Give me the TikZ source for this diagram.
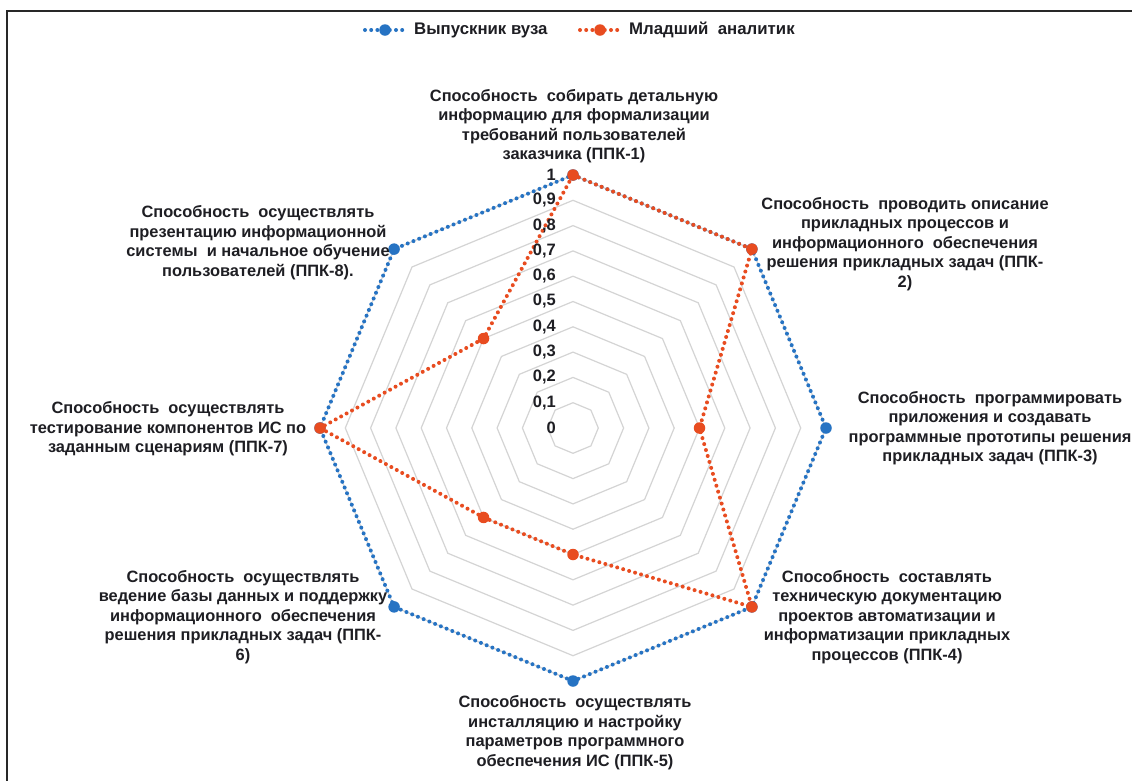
\documentclass[tikz,border=0pt]{standalone}
\usepackage{fontspec}
\setmainfont{Liberation Sans}
\definecolor{serA}{RGB}{38,115,195}
\definecolor{serB}{RGB}{232,76,32}
\definecolor{gridc}{RGB}{212,212,212}
\definecolor{txtc}{RGB}{30,30,35}
\definecolor{framec}{RGB}{40,40,40}
\tikzset{
  dotline/.style={line width=4pt, dash pattern=on 0pt off 6.2pt, line cap=round},
  mk/.style={circle, inner sep=0pt, minimum size=11.5pt, fill=#1, draw=none},
  lbl/.style={align=center, inner sep=0pt, text=txtc, font=\bfseries\fontsize{16.4}{19.5}\selectfont},
  val/.style={anchor=east, inner sep=0pt, text=txtc, font=\bfseries\fontsize{16.5}{18}\selectfont},
  leg/.style={anchor=west, inner sep=0pt, text=txtc, font=\bfseries\fontsize{16.8}{18}\selectfont},
  gridline/.style={draw=gridc, line width=1.2pt}
}
\begin{document}
\begin{tikzpicture}[x=1pt,y=-1pt]
\useasboundingbox (0,0) rectangle (1132,780);
\fill[white] (0,0) rectangle (1132,780);
\coordinate (fbl) at (7,790);
\coordinate (ftl) at (7,11);
\coordinate (ftr) at (1140,11);
\draw[framec, line width=2pt] (fbl) -- (ftl) -- (ftr);

\begin{scope}[shift={(573,428)}, yscale=-1]
  \foreach \k in {1,...,10}{
    \draw[gridline] (90:{25.3*\k}) -- (45:{25.3*\k}) -- (0:{25.3*\k}) -- (-45:{25.3*\k})
      -- (-90:{25.3*\k}) -- (-135:{25.3*\k}) -- (180:{25.3*\k}) -- (135:{25.3*\k}) -- cycle;
  }
  % series A (all 1)
  \coordinate (a1) at (90:253);
  \coordinate (a2) at (45:253);
  \coordinate (a3) at (0:253);
  \coordinate (a4) at (-45:253);
  \coordinate (a5) at (-90:253);
  \coordinate (a6) at (-135:253);
  \coordinate (a7) at (180:253);
  \coordinate (a8) at (135:253);
  % series B
  \coordinate (b1) at (90:253);
  \coordinate (b2) at (45:253);
  \coordinate (b3) at (0:126.5);
  \coordinate (b4) at (-45:253);
  \coordinate (b5) at (-90:126.5);
  \coordinate (b6) at (-135:126.5);
  \coordinate (b7) at (180:253);
  \coordinate (b8) at (135:126.5);
\end{scope}

\draw[serA, dotline] (a1) -- (a2) -- (a3) -- (a4) -- (a5) -- (a6) -- (a7) -- (a8) -- cycle;
\foreach \i in {1,...,8}{ \node[mk=serA] (ma\i) at (a\i) {}; }
\draw[serB, dotline] (b1) -- (b2) -- (b3) -- (b4) -- (b5) -- (b6) -- (b7) -- (b8) -- cycle;
\foreach \i in {1,...,8}{ \node[mk=serB] (mb\i) at (b\i) {}; }

% value labels
\node[val] (v0) at (556,428) {0};
\node[val] (v1) at (556,402.7) {0,1};
\node[val] (v2) at (556,377.4) {0,2};
\node[val] (v3) at (556,352.1) {0,3};
\node[val] (v4) at (556,326.8) {0,4};
\node[val] (v5) at (556,301.5) {0,5};
\node[val] (v6) at (556,276.2) {0,6};
\node[val] (v7) at (556,250.9) {0,7};
\node[val] (v8) at (556,225.6) {0,8};
\node[val] (v9) at (556,200.3) {0,9};
\node[val] (v10) at (556,175) {1};

% axis labels
\node[lbl] (p1) at (574,126) {Способность\ \ собирать детальную\\информацию для формализации\\требований пользователей\\заказчика (ППК-1)};
\node[lbl] (p2) at (905,244) {Способность\ \ проводить описание\\прикладных процессов и\\информационного\ \ обеспечения\\решения прикладных задач (ППК-\\2)};
\node[lbl] (p3) at (990,428) {Способность\ \ программировать\\приложения и создавать\\программные прототипы решения\\прикладных задач (ППК-3)};
\node[lbl] (p4) at (887,617) {Способность\ \ составлять\\техническую документацию\\проектов автоматизации и\\информатизации прикладных\\процессов (ППК-4)};
\node[lbl] (p5) at (575,732.5) {Способность\ \ осуществлять\\инсталляцию и настройку\\параметров программного\\обеспечения ИС (ППК-5)};
\node[lbl] (p6) at (243,617) {Способность\ \ осуществлять\\ведение базы данных и поддержку\\информационного\ \ обеспечения\\решения прикладных задач (ППК-\\6)};
\node[lbl] (p7) at (168,429) {Способность\ \ осуществлять\\тестирование компонентов ИС по\\заданным сценариям (ППК-7)};
\node[lbl] (p8) at (258,242.5) {Способность\ \ осуществлять\\презентацию информационной\\системы\ \ и начальное обучение\\пользователей (ППК-8).};

% legend
\coordinate (la0) at (365,30);
\coordinate (la1) at (405,30);
\draw[serA, dotline] (la0) -- (la1);
\node[mk=serA] (lam) at (385,30) {};
\node[leg] (lat) at (414,30) {Выпускник вуза};
\coordinate (lb0) at (580,30);
\coordinate (lb1) at (620,30);
\draw[serB, dotline] (lb0) -- (lb1);
\node[mk=serB] (lbm) at (600,30) {};
\node[leg] (lbt) at (629,30) {Младший\ \ аналитик};
\end{tikzpicture}
\end{document}
